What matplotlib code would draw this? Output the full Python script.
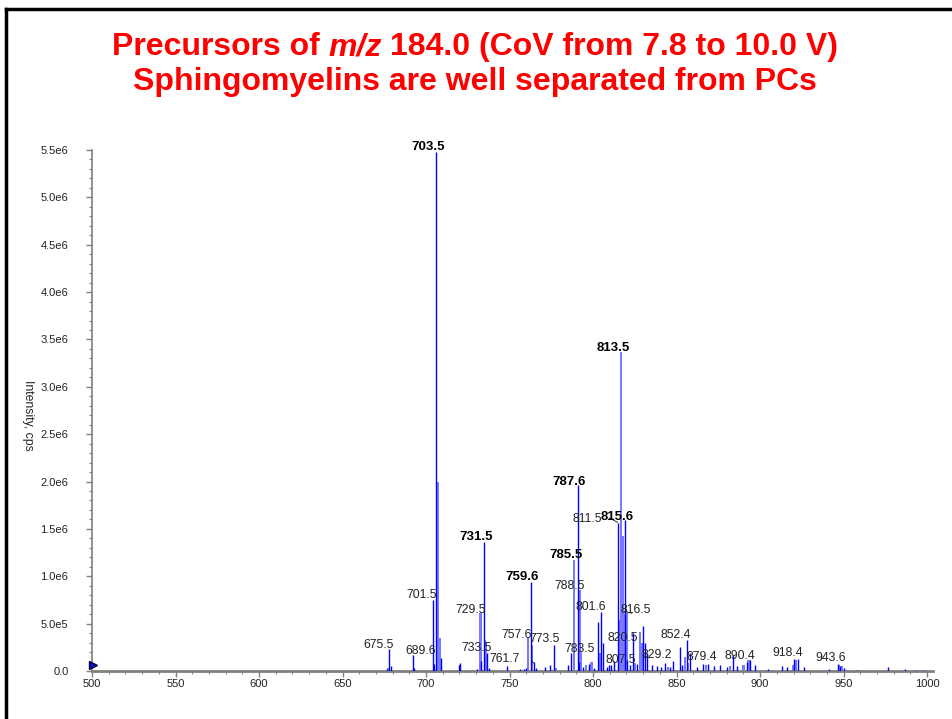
import matplotlib
matplotlib.use('Agg')
import matplotlib.pyplot as plt
from matplotlib.lines import Line2D

plt.rcParams['font.family'] = ['Liberation Sans', 'DejaVu Sans']

# centroid peaks (dark blue lines): m/z and intensity in cps
mz_dark = [676.6, 678.1, 679.3, 692.2, 693.0, 704.3, 705.0, 706.2, 709.0,
           719.6, 720.2, 730.6, 733.0, 734.4, 736.6, 737.5, 748.6, 756.2,
           758.5, 759.6, 762.6, 764.4, 766.0, 771.0, 774.5, 776.6, 785.0,
           786.6, 790.9, 791.6, 794.0, 797.6, 800.5, 803.0, 805.0, 806.0,
           808.4, 809.5, 811.0, 812.6, 814.9, 819.0, 820.5, 822.0, 823.9,
           826.0, 829.9, 831.1, 832.1, 835.0, 838.0, 840.5, 843.0, 846.0,
           847.9, 851.9, 853.0, 856.1, 858.1, 862.0, 866.0, 869.0, 872.5,
           876.0, 880.0, 883.5, 886.0, 892.0, 894.0, 897.0, 905.0, 913.0,
           916.0, 920.5, 922.5, 926.0, 941.0, 946.5, 948.0, 950.0, 958.0,
           976.4, 987.0, 993.0, 998.0]
int_dark = [20e3, 232e3, 50e3, 170e3, 35e3, 750e3, 70e3, 5.48e6, 140e3,
            60e3, 80e3, 20e3, 110e3, 1.36e6, 190e3, 30e3, 50e3, 20e3,
            25e3, 30e3, 942e3, 98e3, 30e3, 40e3, 60e3, 274e3, 60e3,
            190e3, 1.96e6, 100e3, 40e3, 70e3, 30e3, 520e3, 625e3, 295e3,
            40e3, 60e3, 60e3, 110e3, 1.56e6, 1.59e6, 116e3, 60e3, 400e3,
            70e3, 475e3, 292e3, 190e3, 60e3, 50e3, 40e3, 80e3, 45e3,
            105e3, 250e3, 60e3, 327e3, 193e3, 40e3, 74e3, 74e3, 50e3,
            60e3, 45e3, 169e3, 50e3, 100e3, 116e3, 60e3, 20e3, 50e3,
            40e3, 127e3, 127e3, 40e3, 20e3, 70e3, 55e3, 30e3, 15e3,
            45e3, 20e3, 15e3, 15e3]

# profile bars (light blue)
mz_light = [677.0, 707.2, 708.2, 720.5, 732.6, 735.2, 735.8, 761.0, 763.6,
            778.0, 788.6, 792.0, 792.6, 796.0, 799.0, 804.0, 815.9, 816.9,
            817.9, 818.5, 820.0, 825.0, 827.9, 829.0, 845.0, 855.0, 857.0,
            867.5, 882.0, 890.0, 893.0, 919.5, 921.5, 947.0, 948.8]
int_light = [30e3, 2.0e6, 350e3, 60e3, 610e3, 330e3, 310e3, 362e3, 274e3,
             30e3, 1.17e6, 854e3, 200e3, 60e3, 100e3, 190e3, 538e3, 3.37e6,
             1.42e6, 600e3, 610e3, 80e3, 415e3, 300e3, 40e3, 150e3, 80e3,
             60e3, 50e3, 60e3, 120e3, 60e3, 120e3, 60e3, 50e3]

# peak labels
lbl_text = ['703.5', '813.5', '787.6', '815.6', '811.5', '731.5', '785.5',
            '759.6', '788.5', '701.5', '801.6', '816.5', '729.5', '757.6',
            '852.4', '773.5', '820.5', '675.5', '733.5', '783.5', '689.6',
            '829.2', '761.7', '807.5', '879.4', '890.4', '918.4', '943.6']
lbl_x = [701.2, 812.0, 785.6, 814.3, 796.8, 730.0, 783.8, 757.5, 786.2,
         697.6, 798.8, 825.7, 727.0, 754.5, 849.7, 770.7, 818.0, 671.3,
         730.0, 792.2, 697.0, 838.3, 747.3, 816.8, 865.3, 888.0, 916.2, 942.0]
lbl_y = [5.53e6, 3.41e6, 2.00e6, 1.63e6, 1.60e6, 1.41e6, 1.22e6, 0.99e6,
         0.90e6, 0.80e6, 0.675e6, 0.643e6, 0.643e6, 0.38e6, 0.38e6, 0.338e6,
         0.348e6, 0.274e6, 0.243e6, 0.232e6, 0.211e6, 0.169e6, 0.127e6,
         0.116e6, 0.148e6, 0.158e6, 0.19e6, 0.137e6]
lbl_bold = ['703.5', '813.5', '787.6', '815.6', '731.5', '785.5', '759.6']

y_ticks = [0, 5e5, 1e6, 1.5e6, 2e6, 2.5e6, 3e6, 3.5e6, 4e6, 4.5e6, 5e6, 5.5e6]
y_ticklabels = ['0.0', '5.0e5', '1.0e6', '1.5e6', '2.0e6', '2.5e6', '3.0e6',
                '3.5e6', '4.0e6', '4.5e6', '5.0e6', '5.5e6']
x_ticks = [500, 550, 600, 650, 700, 750, 800, 850, 900, 950, 1000]

W, H = 952, 719
fig = plt.figure(figsize=(W / 100, H / 100), dpi=100)
ax = fig.add_axes([92 / W, 1 - 671 / H, 841 / W, 521 / H])

ax.bar(mz_light, int_light, width=1.3, color='#7a7aff', linewidth=0, zorder=2)
ax.vlines(mz_dark, 0, int_dark, color='#0000ff', linewidth=1.0, zorder=3)
ax.plot([500.6], [6e4], marker='>', color='#1010c0', markersize=6,
        markeredgecolor='#000040', clip_on=False, zorder=4)

for t, x, y in zip(lbl_text, lbl_x, lbl_y):
    bold = t in lbl_bold
    ax.text(x, y, t, ha='center', va='center', clip_on=False,
            fontsize=9.5 if bold else 8.8,
            fontweight='bold' if bold else 'normal',
            color='#000000' if bold else '#222222', zorder=5)

# short leader lines
ax.plot([763.0, 764.5], [0.105e6, 0.085e6], color='#333333', lw=0.7)
ax.plot([809.8, 814.6], [1.615e6, 1.57e6], color='#333333', lw=0.7)
ax.plot([818.8, 823.2], [0.63e6, 0.61e6], color='#333333', lw=0.7)
ax.plot([830.5, 833.0], [0.16e6, 0.14e6], color='#333333', lw=0.7)

ax.set_xlim(500, 1003.5)
ax.set_ylim(0, 5.5e6)
ax.set_xticks(x_ticks)
ax.set_xticks(range(500, 1001, 10), minor=True)
ax.set_yticks(y_ticks)
ax.set_yticklabels(y_ticklabels)
ax.set_yticks([i * 1e5 for i in range(56)], minor=True)

for s in ['top', 'right']:
    ax.spines[s].set_visible(False)
ax.spines['left'].set_color('#808080')
ax.spines['left'].set_linewidth(1.2)
ax.spines['bottom'].set_color('#808080')
ax.spines['bottom'].set_linewidth(2.0)
ax.tick_params(which='major', length=4, width=1, color='#808080',
               labelsize=8, labelcolor='#222222')
ax.tick_params(which='minor', length=2, width=0.8, color='#808080')
ax.tick_params(axis='y', which='major', pad=13)
ax.tick_params(axis='x', which='major', pad=2)

fig.text(28 / W, 1 - 415 / H, 'Intensity, cps', rotation=-90, ha='center',
         va='center', fontsize=8.8, color='#222222')

# title, line 1 built from pieces so that m/z can be italic
title_size = 23
r = fig.canvas.get_renderer()
pieces = [('Precursors of', 'normal'), ('m/z', 'italic'),
          ('184.0 (CoV from 7.8 to 10.0 V)', 'normal')]
objs = [fig.text(0, 0, s, fontstyle=st, fontsize=title_size, fontweight='bold',
                 color='#ff0000', ha='left', va='baseline') for s, st in pieces]
probe_a = fig.text(0, 0, 'x x', fontsize=title_size, fontweight='bold')
probe_b = fig.text(0, 0, 'xx', fontsize=title_size, fontweight='bold')
space = probe_a.get_window_extent(r).width - probe_b.get_window_extent(r).width
probe_a.remove()
probe_b.remove()
widths = [o.get_window_extent(r).width for o in objs]
total = sum(widths) + space * (len(objs) - 1)
x0 = 475 - total / 2
for o, w in zip(objs, widths):
    o.set_position((x0 / W, 1 - 55 / H))
    x0 += w + space
fig.text(475 / W, 1 - 90 / H, 'Sphingomyelins are well separated from PCs',
         ha='center', va='baseline', fontsize=title_size, fontweight='bold',
         color='#ff0000')

# slide frame
fig.add_artist(Line2D([6 / W, 6 / W], [0, 1 - 9 / H], color='black', lw=2.5))
fig.add_artist(Line2D([6 / W, 1], [1 - 9 / H, 1 - 9 / H], color='black', lw=2.5))

fig.savefig('out.png', dpi=100)
